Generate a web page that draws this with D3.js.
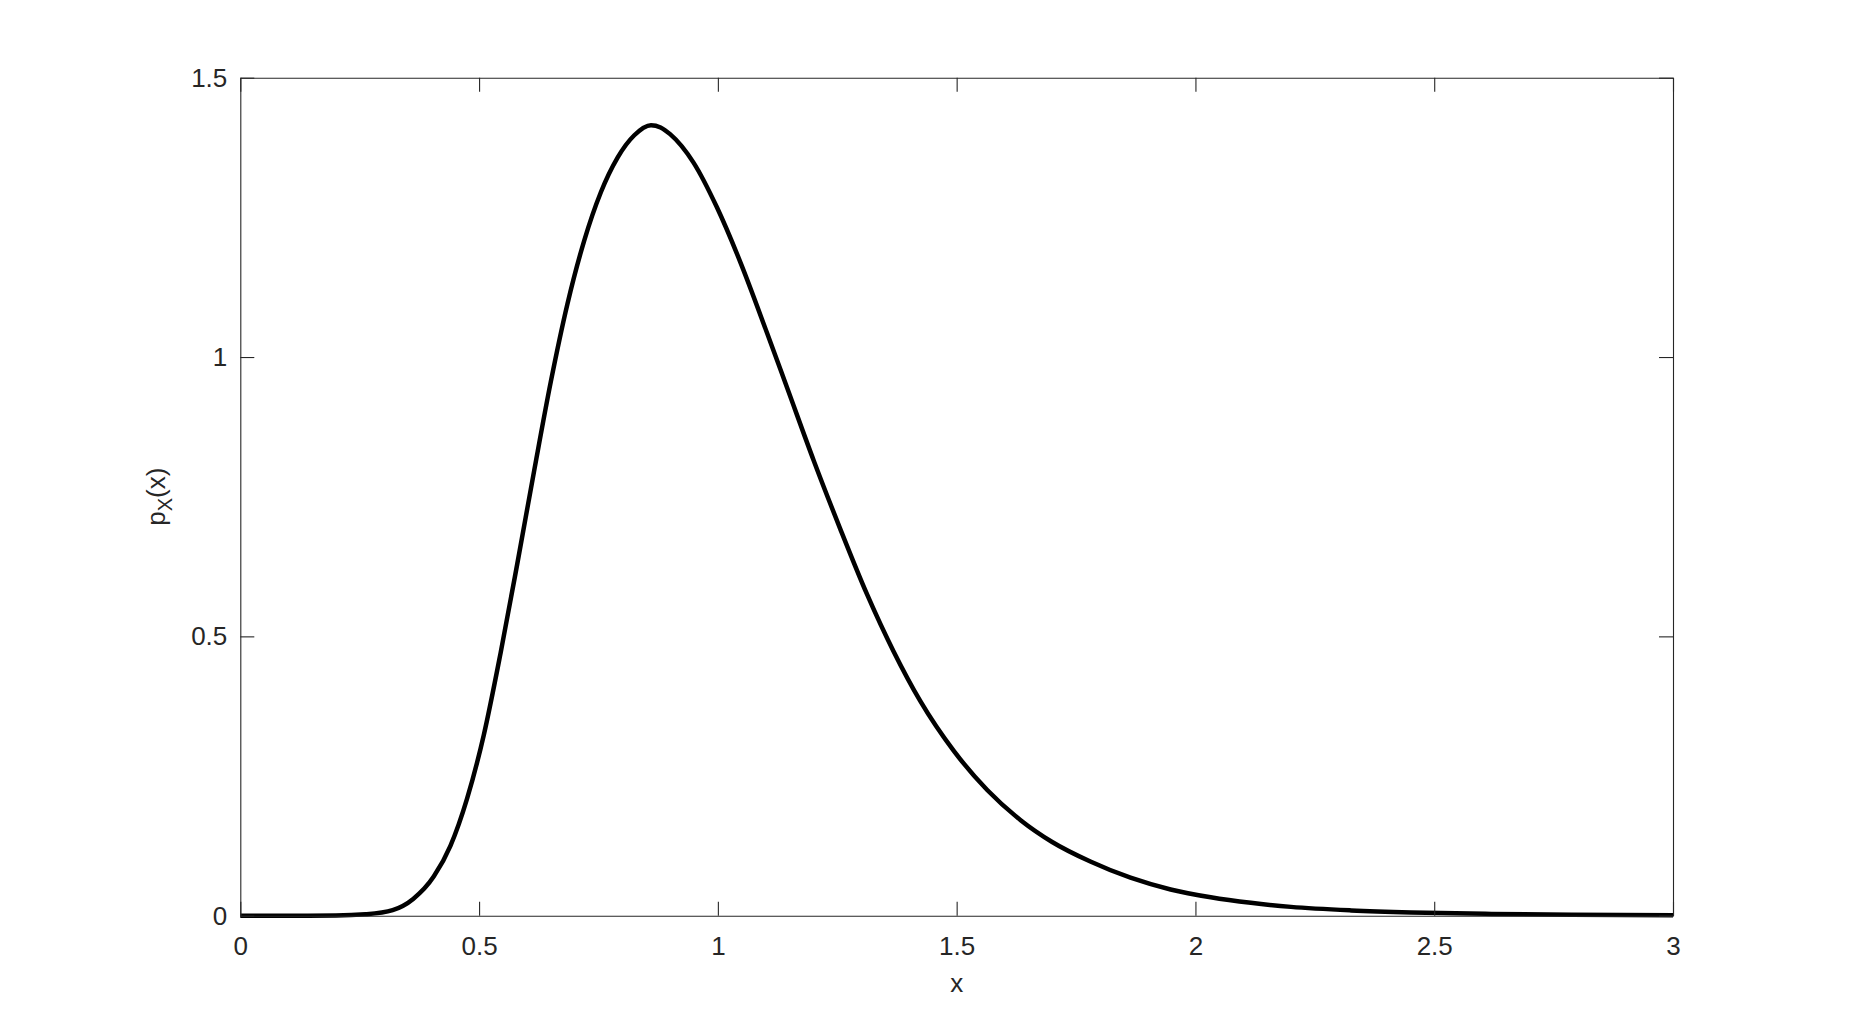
<!DOCTYPE html>
<html>
<head>
<meta charset="utf-8">
<script src="https://cdnjs.cloudflare.com/ajax/libs/d3/7.8.5/d3.min.js"></script>
<style>
  body { margin: 0; background: #fff; }
  text { font-family: "Liberation Sans", Arial, sans-serif; fill: #262626; }
</style>
</head>
<body>
<script>
// curve values
var xValues = [0, 0.1, 0.2, 0.262, 0.319, 0.362, 0.405, 0.440, 0.475, 0.510,
  0.545, 0.580, 0.615, 0.650, 0.685, 0.720, 0.755, 0.790, 0.825, 0.860,
  0.880, 0.900, 0.949, 0.998, 1.047, 1.103, 1.145, 1.201, 1.256, 1.312,
  1.368, 1.424, 1.494, 1.564, 1.634, 1.700, 1.780, 1.864, 1.948, 2.032,
  2.116, 2.200, 2.326, 2.452, 2.620, 2.788, 3.0];
var pValues = [0, 0, 0.0003, 0.0025, 0.010, 0.030, 0.070, 0.125, 0.210, 0.324,
  0.470, 0.630, 0.795, 0.955, 1.095, 1.208, 1.295, 1.357, 1.397, 1.415,
  1.411, 1.399, 1.348, 1.268, 1.170, 1.043, 0.945, 0.814, 0.693, 0.576,
  0.473, 0.384, 0.295, 0.225, 0.171, 0.132, 0.097, 0.068, 0.047, 0.033,
  0.023, 0.0158, 0.0095, 0.0058, 0.0032, 0.0018, 0.0009];

var xTicks = [0, 0.5, 1, 1.5, 2, 2.5, 3];
var yTicks = [0, 0.5, 1, 1.5];

var width = 1849,
    height = 1029,
    margin = { top: 77.7, right: 176, bottom: 113.3, left: 240.3 };

var svg = d3.select('body').append('svg')
    .attr('width', width)
    .attr('height', height);

var w = width - margin.left - margin.right,
    h = height - margin.top - margin.bottom;

var xScale = d3.scaleLinear().domain([0, 3]).range([0, w]),
    yScale = d3.scaleLinear().domain([0, 1.5]).range([h, 0]);

var g = svg.append('g')
    .attr('transform', 'translate(' + margin.left + ',' + margin.top + ')');

var data = xValues.map(function(x, i) { return { x: x, p: pValues[i] }; });

// the pdf curve
var line = d3.line()
    .x(function(d) { return xScale(d.x); })
    .y(function(d) { return yScale(d.p); })
    .curve(d3.curveMonotoneX);

g.append('path')
    .datum(data)
    .attr('d', line)
    .attr('fill', 'none')
    .attr('stroke', '#000')
    .attr('stroke-width', 4.5)
    .attr('stroke-linejoin', 'round');

// box axes, ticks pointing inward
var tick = 14;

function styleAxis(sel) {
  sel.selectAll('path, line').attr('stroke', '#262626').attr('stroke-width', 1.1);
  sel.selectAll('text')
    .attr('fill', '#262626')
    .style('font-family', '"Liberation Sans", Arial, sans-serif')
    .style('font-size', '26px');
}

g.append('g')
    .attr('transform', 'translate(0,' + h + ')')
    .call(d3.axisBottom(xScale).tickValues(xTicks).tickFormat(d3.format('')).tickSize(-tick).tickSizeOuter(0).tickPadding(21))
    .call(styleAxis);

g.append('g')
    .call(d3.axisTop(xScale).tickValues(xTicks).tickFormat('').tickSize(-tick).tickSizeOuter(0))
    .call(styleAxis);

g.append('g')
    .call(d3.axisLeft(yScale).tickValues(yTicks).tickFormat(d3.format('')).tickSize(-tick).tickSizeOuter(0).tickPadding(13))
    .call(styleAxis);

g.append('g')
    .attr('transform', 'translate(' + w + ',0)')
    .call(d3.axisRight(yScale).tickValues(yTicks).tickFormat('').tickSize(-tick).tickSizeOuter(0))
    .call(styleAxis);

svg.selectAll('.domain').attr('fill', 'none');

// axis labels
svg.append('text')
    .attr('x', margin.left + w / 2)
    .attr('y', 992)
    .attr('text-anchor', 'middle')
    .style('font-size', '26px')
    .text('x');

var ylab = svg.append('text')
    .attr('transform', 'translate(165,' + (margin.top + h / 2) + ') rotate(-90)')
    .attr('text-anchor', 'middle')
    .style('font-size', '26px');
ylab.append('tspan').text('p');
ylab.append('tspan').attr('dy', 7).style('font-size', '20px').text('X');
ylab.append('tspan').attr('dy', -7).text('(x)');
</script>
</body>
</html>
